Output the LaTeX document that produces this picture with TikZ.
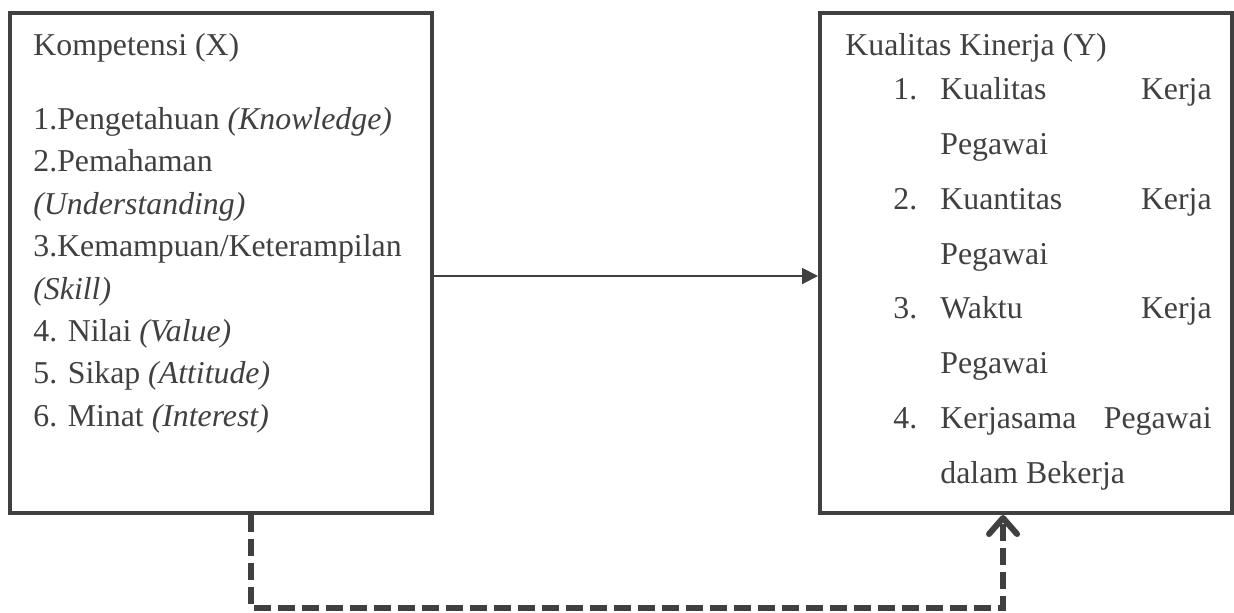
\documentclass[tikz,border=0pt]{standalone}
\usepackage{fontspec}
\setmainfont{Liberation Serif}
\usetikzlibrary{arrows.meta}
\definecolor{ink}{HTML}{404040}
\begin{document}
\begin{tikzpicture}[x=0.5pt,y=-0.5pt,
  panel/.style={draw=ink, line width=2pt, inner sep=0pt, minimum height=250pt},
  txt/.style={anchor=base west, inner sep=0pt, text=ink, font=\fontsize{15.9pt}{19pt}\selectfont},
  txtr/.style={txt, anchor=base east},
  link/.style={draw=ink, line width=1pt, -{Triangle[length=8pt,width=8pt]}},
  dashlink/.style={draw=ink, line width=3pt, dash pattern=on 8.5pt off 3.5pt,
    -{Straight Barb[length=8pt,width=14pt,round]}}]
  % canvas
  \fill[white] (0,0) rectangle (1234,612);
  \useasboundingbox (0,0) rectangle (1234,612);

  % the two variable boxes
  \node[panel, minimum width=211pt] (kompetensi) at (221,263) {};
  \node[panel, minimum width=206pt] (kinerja) at (1026,263) {};

  % Kompetensi (X)
  \node[txt] (kx) at (33,55) {Kompetensi (X)};
  \node[txt] (k1) at (33,129.5) {1.Pengetahuan \textit{(Knowledge)}};
  \node[txt] (k2) at (33,171.9) {2.Pemahaman};
  \node[txt] (k2b) at (33,214.3) {\textit{(Understanding)}};
  \node[txt] (k3) at (33,256.7) {3.Kemampuan/Keterampilan};
  \node[txt] (k3b) at (33,299.1) {\textit{(Skill)}};
  \node[txt] (k4) at (33,341.5) {4. Nilai \textit{(Value)}};
  \node[txt] (k5) at (33,383.9) {5. Sikap \textit{(Attitude)}};
  \node[txt] (k6) at (33,426.3) {6. Minat \textit{(Interest)}};

  % Kualitas Kinerja (Y)
  \node[txt] (ky) at (845,55) {Kualitas Kinerja (Y)};
  \node[txt] (n1) at (893,99) {1.};
  \node[txt] (y1a) at (940,99) {Kualitas};
  \node[txtr] (y1b) at (1212,99) {Kerja};
  \node[txt] (y1c) at (940,154) {Pegawai};
  \node[txt] (n2) at (893,209) {2.};
  \node[txt] (y2a) at (940,209) {Kuantitas};
  \node[txtr] (y2b) at (1212,209) {Kerja};
  \node[txt] (y2c) at (940,264) {Pegawai};
  \node[txt] (n3) at (893,318) {3.};
  \node[txt] (y3a) at (940,318) {Waktu};
  \node[txtr] (y3b) at (1212,318) {Kerja};
  \node[txt] (y3c) at (940,373) {Pegawai};
  \node[txt] (n4) at (893,428) {4.};
  \node[txt] (y4a) at (940,428) {Kerjasama};
  \node[txtr] (y4b) at (1212,428) {Pegawai};
  \node[txt] (y4c) at (940,483) {dalam Bekerja};

  % connectors
  \draw[link] ([yshift=-6.5pt]kompetensi.east) -- ([yshift=-6.5pt]kinerja.west);
  \coordinate (dl) at (251,608);
  \coordinate (dr) at (1003,608);
  \draw[dashlink] (kompetensi.south -| dl) |- (dr) -- (kinerja.south -| dr);
\end{tikzpicture}
\end{document}
